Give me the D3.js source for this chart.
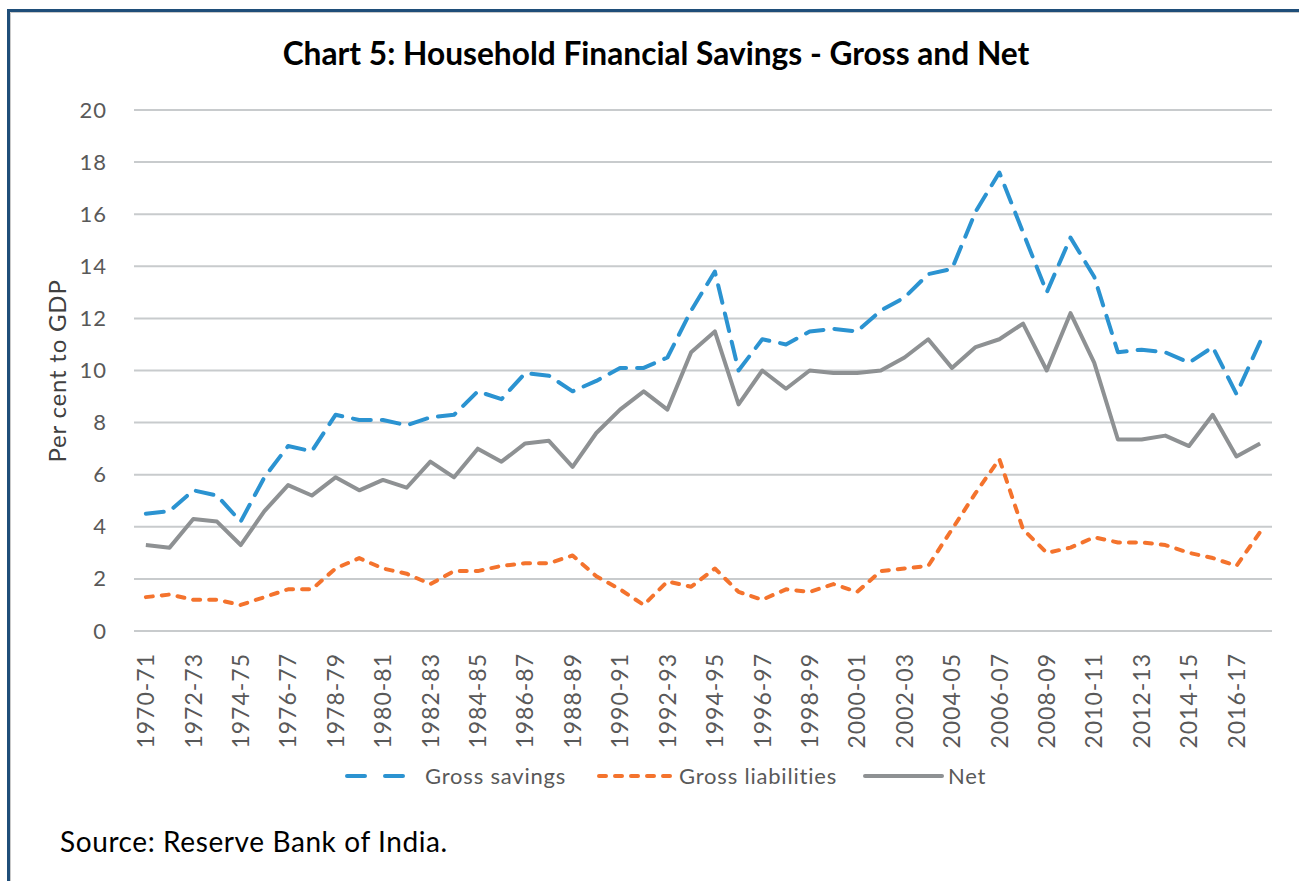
<!DOCTYPE html>
<html>
<head>
<meta charset="utf-8">
<script src="https://cdn.jsdelivr.net/npm/d3@7"></script>
<style>
  body { margin: 0; background: #fff; }
  svg { display: block; }
  text { font-family: Lato, "Open Sans", sans-serif; }
</style>
</head>
<body>
<div id="chart"></div>
<script>
// category labels (financial years)
const categories = [
    "1970-71", "1971-72", "1972-73", "1973-74", "1974-75", "1975-76", "1976-77", "1977-78",
    "1978-79", "1979-80", "1980-81", "1981-82", "1982-83", "1983-84", "1984-85", "1985-86",
    "1986-87", "1987-88", "1988-89", "1989-90", "1990-91", "1991-92", "1992-93", "1993-94",
    "1994-95", "1995-96", "1996-97", "1997-98", "1998-99", "1999-00", "2000-01", "2001-02",
    "2002-03", "2003-04", "2004-05", "2005-06", "2006-07", "2007-08", "2008-09", "2009-10",
    "2010-11", "2011-12", "2012-13", "2013-14", "2014-15", "2015-16", "2016-17", "2017-18"
];

// per cent to GDP
const grossSavings = [
    4.5, 4.6, 5.4, 5.2, 4.2, 5.9, 7.1, 6.9,
    8.3, 8.1, 8.1, 7.9, 8.2, 8.3, 9.2, 8.9,
    9.9, 9.8, 9.2, 9.6, 10.1, 10.1, 10.5, 12.3,
    13.8, 10.0, 11.2, 11.0, 11.5, 11.6, 11.5, 12.3,
    12.8, 13.7, 13.9, 16.1, 17.6, 15.3, 13.0, 15.1,
    13.6, 10.7, 10.8, 10.7, 10.3, 10.9, 9.1, 11.1
];

const grossLiabilities = [
    1.3, 1.4, 1.2, 1.2, 1.0, 1.3, 1.6, 1.6,
    2.4, 2.8, 2.4, 2.2, 1.8, 2.3, 2.3, 2.5,
    2.6, 2.6, 2.9, 2.1, 1.6, 1.0, 1.9, 1.7,
    2.4, 1.5, 1.2, 1.6, 1.5, 1.8, 1.5, 2.3,
    2.4, 2.5, 3.9, 5.3, 6.6, 3.9, 3.0, 3.2,
    3.6, 3.4, 3.4, 3.3, 3.0, 2.8, 2.5, 3.8
];

const netSavings = [
    3.3, 3.2, 4.3, 4.2, 3.3, 4.6, 5.6, 5.2,
    5.9, 5.4, 5.8, 5.5, 6.5, 5.9, 7.0, 6.5,
    7.2, 7.3, 6.3, 7.6, 8.5, 9.2, 8.5, 10.7,
    11.5, 8.7, 10.0, 9.3, 10.0, 9.9, 9.9, 10.0,
    10.5, 11.2, 10.1, 10.9, 11.2, 11.8, 10.0, 12.2,
    10.3, 7.35, 7.35, 7.5, 7.1, 8.3, 6.7, 7.2
];

const yTicks = [0, 2, 4, 6, 8, 10, 12, 14, 16, 18, 20];
const seriesNames = ["Gross savings", "Gross liabilities", "Net"];

let width = 1299;
let height = 881;
let margin = { top: 110, right: 27, bottom: 250, left: 134 };

let svg = d3.select("#chart")
    .append("svg")
    .attr("width", width)
    .attr("height", height);

// frame: dark blue rule on the top and left edge
svg.append("line")
    .attr("x1", 10.5).attr("x2", width).attr("y1", 12.5).attr("y2", 12.5)
    .attr("stroke", "#c9c9c9").attr("stroke-width", 1);
svg.append("line")
    .attr("x1", 10.5).attr("x2", 10.5).attr("y1", 12.5).attr("y2", height)
    .attr("stroke", "#c9c9c9").attr("stroke-width", 1);
svg.append("path")
    .attr("d", "M8.5," + height + "V10.5H" + width)
    .attr("fill", "none")
    .attr("stroke", "#1f4e79")
    .attr("stroke-width", 3);

let x = d3.scaleBand()
    .domain(categories)
    .range([margin.left, width - margin.right]);

let y = d3.scaleLinear()
    .domain([0, 20])
    .range([height - margin.bottom, margin.top]);

let cx = d => x(d) + x.bandwidth() / 2;

// gridlines
svg.append("g")
    .selectAll("line")
    .data(yTicks)
    .join("line")
    .attr("x1", margin.left)
    .attr("x2", width - margin.right)
    .attr("y1", d => y(d))
    .attr("y2", d => y(d))
    .attr("stroke", "#c8cbcd")
    .attr("stroke-width", 2);

// y axis labels
let yAxis = d3.axisLeft(y).tickValues(yTicks).tickSize(0).tickPadding(0);
let yG = svg.append("g")
    .attr("transform", "translate(107,0)")
    .call(yAxis);
yG.select(".domain").remove();
yG.selectAll("text")
    .attr("fill", "#595959")
    .style("font-size", "22px")
    .style("letter-spacing", "1px");

// x axis labels, every second year
let xAxis = d3.axisBottom(x)
    .tickValues(categories.filter((d, i) => i % 2 === 0))
    .tickSize(0);
let xG = svg.append("g")
    .attr("transform", "translate(0," + (height - margin.bottom) + ")")
    .call(xAxis);
xG.select(".domain").remove();
xG.selectAll("text")
    .attr("fill", "#595959")
    .style("font-size", "23px")
    .style("letter-spacing", "1px")
    .attr("text-anchor", "end")
    .attr("transform", "rotate(-90)")
    .attr("x", -22)
    .attr("y", 0)
    .attr("dy", "0.36em");

// axis title
svg.append("text")
    .attr("transform", "translate(66,371) rotate(-90)")
    .attr("text-anchor", "middle")
    .attr("fill", "#404040")
    .style("font-size", "24px")
    .style("letter-spacing", "0.8px")
    .text("Per cent to GDP");

// chart title, scaled to the width it takes in the original
let title = svg.append("text")
    .attr("x", 656)
    .attr("y", 65)
    .attr("text-anchor", "middle")
    .attr("fill", "#000")
    .style("font-weight", "bold")
    .style("font-size", "26px")
    .text("Chart 5: Household Financial Savings - Gross and Net");
let tLen = title.node().getComputedTextLength();
title.style("font-size", (26 * 747 / tLen) + "px");

// series
let series = [
    { name: seriesNames[0], values: grossSavings, color: "#2b93d1", dash: "18 11", legendDash: "18 20" },
    { name: seriesNames[1], values: grossLiabilities, color: "#f4732d", dash: "7 9", legendDash: "7 9" },
    { name: seriesNames[2], values: netSavings, color: "#8e9193", dash: null, legendDash: null }
];

let line = d3.line()
    .x((d, i) => cx(categories[i]))
    .y(d => y(d));

svg.append("g")
    .selectAll("path")
    .data(series)
    .join("path")
    .attr("d", d => line(d.values))
    .attr("fill", "none")
    .attr("stroke", d => d.color)
    .attr("stroke-width", 4)
    .attr("stroke-linecap", d => d.dash ? "round" : "butt")
    .attr("stroke-linejoin", "round")
    .attr("stroke-dasharray", d => d.dash);

// legend
let legendPos = [
    { x1: 347, x2: 403, tx: 425 },
    { x1: 599, x2: 672, tx: 679 },
    { x1: 865, x2: 942, tx: 948 }
];
let legendY = 776;

series.forEach(function(s, i) {
    let p = legendPos[i];
    svg.append("line")
        .attr("x1", p.x1).attr("x2", p.x2)
        .attr("y1", legendY).attr("y2", legendY)
        .attr("stroke", s.color)
        .attr("stroke-width", 4)
        .attr("stroke-linecap", "round")
        .attr("stroke-dasharray", s.legendDash);
    svg.append("text")
        .attr("x", p.tx)
        .attr("y", legendY)
        .attr("dy", "0.35em")
        .attr("fill", "#595959")
        .style("font-size", "22px")
        .style("letter-spacing", "0.8px")
        .text(s.name);
});

// source note
svg.append("text")
    .attr("x", 60)
    .attr("y", 852)
    .attr("fill", "#000")
    .style("font-size", "28px")
    .style("letter-spacing", "0.6px")
    .text("Source: Reserve Bank of India.");
</script>
</body>
</html>
